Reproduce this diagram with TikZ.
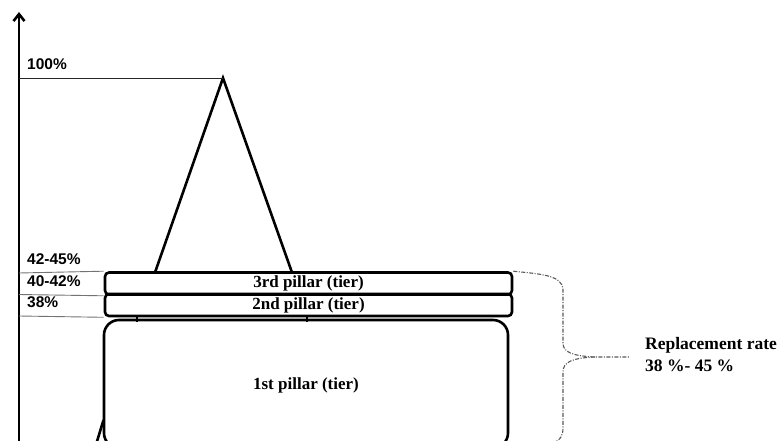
\documentclass[tikz,border=0pt]{standalone}
\usepackage{fontspec}
\setmainfont{Liberation Serif}
\newfontfamily\labfont{Liberation Sans}
\usetikzlibrary{arrows.meta}
\begin{document}
\begin{tikzpicture}[x=1pt,y=-1pt,
  pillar/.style={draw,line width=2.6pt,rounded corners=4pt,inner sep=0pt,font=\fontsize{17}{17}\selectfont\bfseries},
  bigpillar/.style={draw,line width=2.6pt,rounded corners=15pt,inner sep=0pt},
  guide/.style={draw=black!55,line width=0.9pt},
  pct/.style={anchor=west,inner sep=0pt,font=\labfont\fontsize{15.5}{15.5}\selectfont\bfseries},
  brace/.style={draw=black!65,line width=1.1pt,dash pattern=on 4pt off 1.5pt on 1pt off 1.5pt},
  rlab/.style={anchor=west,inner sep=0pt,font=\fontsize{17.5}{17.5}\selectfont\bfseries}]
\clip (0,0) rectangle (777,441);
\useasboundingbox (0,0) rectangle (777,441);

% axis
\coordinate (axb) at (19,445);
\coordinate (axt) at (19,12);
\draw[line width=2.8pt,-{Straight Barb[length=7pt,width=11pt,line width=2.6pt]}] (axb) -- (axt);

% boxes
\node[bigpillar,minimum width=404pt,minimum height=128pt] (p1) at (306,384) {};
\node[font=\fontsize{17}{17}\selectfont\bfseries] (p1t) at (306,385) {1st pillar (tier)};
\node[pillar,minimum width=407pt,minimum height=22pt] (p3) at (308.5,283.5) {3rd pillar (tier)};
\node[pillar,minimum width=407pt,minimum height=22pt] (p2) at (308.5,305) {2nd pillar (tier)};

% small joints between 2nd and 1st
\draw[line width=2.4pt] (p2.south west) ++(33,0) coordinate (j1) -- ++(0,5);
\draw[line width=2.4pt] (p2.south west) ++(203,0) coordinate (j2) -- ++(0,5);

% triangle
\coordinate (apex) at (223,78);
\coordinate (tl) at (155,272.5);
\coordinate (tr) at (292,272.5);
\draw[line width=2.6pt,line join=miter] (tl) -- (apex) -- (tr);

% lower triangle side
\coordinate (ll1) at (103.5,420);
\coordinate (ll2) at (95,448);
\draw[line width=2.6pt] (ll1) -- (ll2);

% guide lines
\coordinate (g100) at (19,78);
\draw[line width=0.9pt,black!85] (g100) -- (apex);
\draw[guide] (19,273) -- (p3.north west);
\draw[guide] (19,294.5) -- (p3.south west);
\draw[guide] (19,316) -- (p2.south west);

% percentage labels
\node[pct] (l100) at (27,64) {100\%};
\node[pct] (l45) at (27,259) {42-45\%};
\node[pct] (l42) at (27,281) {40-42\%};
\node[pct] (l38) at (27,302) {38\%};

% brace
\coordinate (btip) at (629,357);
\coordinate (bbot) at (555,442);
\draw[brace] (p3.north east) .. controls (540,274) and (563,275) .. (563,290) -- (563,343)
  .. controls (563,352) and (572,356) .. (595,357) -- (btip);
\draw[brace] (595,357) .. controls (572,358) and (563,362) .. (563,372) -- (563,428)
  .. controls (563,436) and (560,440) .. (bbot);

% right labels
\node[rlab] (r1) at (645,345) {Replacement rate};
\node[rlab] (r2) at (645,366) {38 \%- 45 \%};
\end{tikzpicture}
\end{document}
